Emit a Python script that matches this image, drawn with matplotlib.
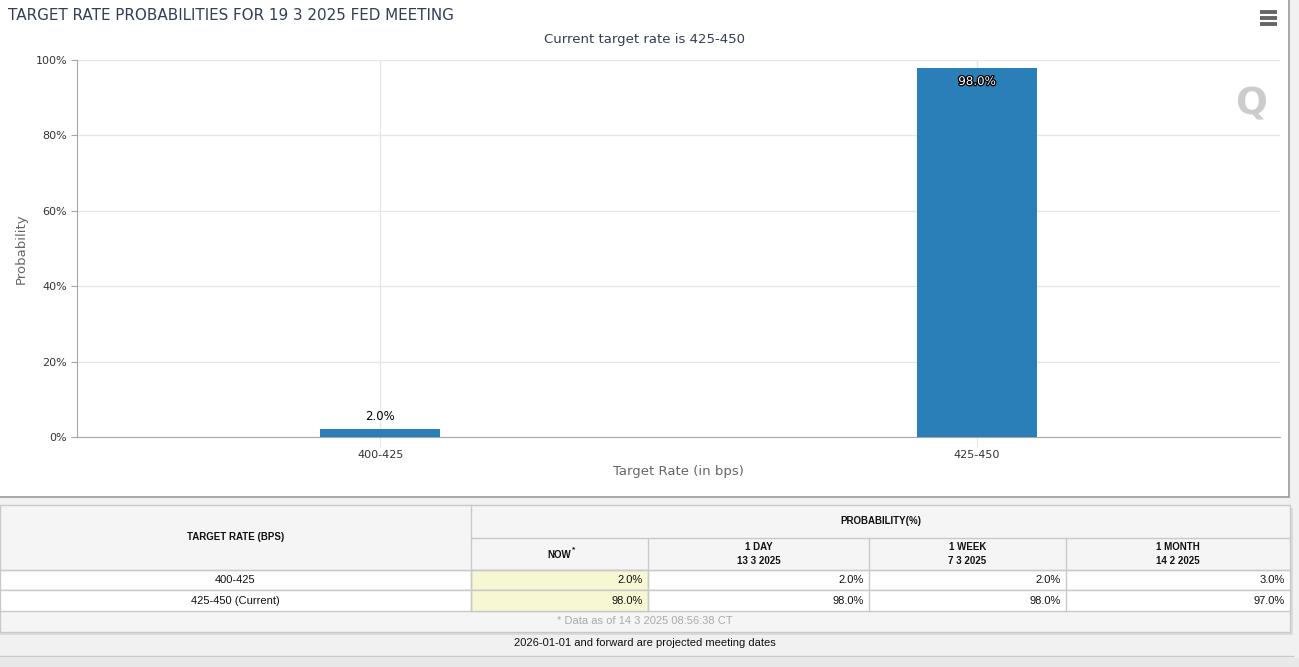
import numpy as np
import matplotlib
matplotlib.use("Agg")
import matplotlib.pyplot as plt
from matplotlib.patches import Rectangle
from matplotlib import patheffects as pe

# ---- data ----
categories = ["400-425", "425-450"]
prob_now = [2.0, 98.0]

row_labels = ["400-425", "425-450 (Current)"]
col_headers = ["NOW", "1 DAY\n13 3 2025", "1 WEEK\n7 3 2025", "1 MONTH\n14 2 2025"]
tbl_now = [2.0, 98.0]
tbl_day = [2.0, 98.0]
tbl_week = [2.0, 98.0]
tbl_month = [3.0, 97.0]

title = "TARGET RATE PROBABILITIES FOR 19 3 2025 FED MEETING"
subtitle = "Current target rate is 425-450"
footnote = "* Data as of 14 3 2025 08:56:38 CT"
bottom_note = "2026-01-01 and forward are projected meeting dates"

W, H = 1299, 667
bar_color = "#2a7fb8"
grid_color = "#e6e6e6"
axis_gray = "#a6a6a6"

fig = plt.figure(figsize=(W / 100, H / 100), dpi=100, facecolor="#f1f1f1")

# background / decoration layer in pixel coordinates
bg = fig.add_axes([0, 0, 1, 1], zorder=0)
bg.set_xlim(0, W)
bg.set_ylim(H, 0)
bg.axis("off")

# chart panel
bg.add_patch(Rectangle((-2, -2), 1291, 499, facecolor="white", edgecolor="#9a9a9a", lw=1.2))
bg.text(8, 15, title, fontsize=10.9, color="#333d58", va="center", ha="left",
        family="DejaVu Sans")
bg.text(645, 39, subtitle, fontsize=9.5, color="#333d55", va="center", ha="center")

# hamburger menu
for yy in (12, 18, 24):
    bg.plot([1260, 1277], [yy, yy], color="#666666", lw=2.8, solid_capstyle="butt")

# watermark logo
bg.text(1251, 104, "Q", fontsize=27, fontweight="bold", color="#cccccc",
        ha="center", va="center", zorder=1)
for i, (yy, ln) in enumerate([(68, 4), (75, 5), (82, 6), (89, 8), (96, 10),
                              (103, 12), (110, 10), (117, 8), (124, 6), (131, 4)]):
    xr = 1254 - i * 3.2
    bg.plot([xr - ln, xr], [yy, yy], color="#a8e4ef", lw=1.2, zorder=0.5)

# ---- table (pixel layout) ----
col_edges = [0, 471, 648, 869, 1066, 1290]
y_top, y_split, y_head, y_r1, y_r2, y_foot = 505, 538, 570, 590, 611, 632
line_c = "#c9c9c9"
tfont = "Liberation Sans"

bg.add_patch(Rectangle((0, y_top + 3), 1293, y_foot - y_top, facecolor="#dcdcdc",
                       edgecolor="none"))
bg.add_patch(Rectangle((0, y_top), 1290, y_foot - y_top, facecolor="#f5f5f5",
                       edgecolor=line_c, lw=1))
row_edges = [y_head, y_r1, y_r2]
for r in range(len(row_labels)):
    bg.add_patch(Rectangle((0, row_edges[r]), 1290, row_edges[r + 1] - row_edges[r],
                           facecolor="white", edgecolor=line_c, lw=1))
    bg.add_patch(Rectangle((col_edges[1], row_edges[r]), col_edges[2] - col_edges[1],
                           row_edges[r + 1] - row_edges[r],
                           facecolor="#f7f7d3", edgecolor=line_c, lw=1))

# header grid lines
bg.plot([col_edges[1], col_edges[1]], [y_top, y_r2], color=line_c, lw=1)
bg.plot([col_edges[1], col_edges[-1]], [y_split, y_split], color=line_c, lw=1)
for xe in col_edges[2:-1]:
    bg.plot([xe, xe], [y_split, y_r2], color=line_c, lw=1)
bg.plot([0, col_edges[-1]], [y_head, y_head], color=line_c, lw=1)

bg.text((col_edges[0] + col_edges[1]) / 2, (y_top + y_head) / 2, "TARGET RATE (BPS)",
        fontsize=7, fontweight="bold", ha="center", va="center", family=tfont, color="#111")
bg.text((col_edges[1] + col_edges[-1]) / 2, (y_top + y_split) / 2, "PROBABILITY(%)",
        fontsize=7, fontweight="bold", ha="center", va="center", family=tfont, color="#111")
for j, hdr in enumerate(col_headers):
    xc = (col_edges[j + 1] + col_edges[j + 2]) / 2
    if j == 0:
        bg.text(xc, (y_split + y_head) / 2 + 1, hdr, fontsize=7, fontweight="bold",
                ha="center", va="center", family=tfont, color="#111")
        bg.text(xc + 14, (y_split + y_head) / 2 - 4, "*", fontsize=6, fontweight="bold",
                ha="center", va="center", family=tfont, color="#111")
    else:
        bg.text(xc, (y_split + y_head) / 2, hdr, fontsize=7, fontweight="bold",
                ha="center", va="center", family=tfont, color="#111", linespacing=1.4)

cols = [tbl_now, tbl_day, tbl_week, tbl_month]
for r, lab in enumerate(row_labels):
    yc = (row_edges[r] + row_edges[r + 1]) / 2
    bg.text((col_edges[0] + col_edges[1]) / 2, yc, lab, fontsize=8, ha="center",
            va="center", family=tfont, color="#111")
    for j, vals in enumerate(cols):
        bg.text(col_edges[j + 2] - 5, yc, f"{vals[r]:.1f}%", fontsize=8, ha="right",
                va="center", family=tfont, color="#111")

bg.text(645, (y_r2 + y_foot) / 2, footnote, fontsize=8, ha="center", va="center",
        family=tfont, color="#aaaaaa")
bg.text(645, 643, bottom_note, fontsize=8, ha="center", va="center",
        family=tfont, color="#111")
bg.plot([0, 1293], [656, 656], color="#c9c9c9", lw=1)
bg.add_patch(Rectangle((0, 658), W, 9, facecolor="#e8e8e8", edgecolor="none"))

# ---- chart ----
ax = fig.add_axes([77 / W, 1 - 437 / H, 1203 / W, 377 / H], zorder=2)
ax.set_facecolor("none")
x = np.arange(len(categories))
bars = ax.bar(x, prob_now, width=0.2, color=bar_color, zorder=3)
ax.set_xlim(-0.508, len(categories) - 0.492)
ax.set_ylim(0, 100)
ax.set_yticks(np.arange(0, 101, 20))
ax.set_yticklabels([f"{v}%" for v in range(0, 101, 20)])
ax.set_xticks(x)
ax.set_xticklabels(categories)
ax.grid(True, axis="both", color=grid_color, lw=1, zorder=0)
ax.tick_params(axis="y", length=4, color=axis_gray, labelsize=8, labelcolor="#333333", pad=3)
ax.tick_params(axis="x", length=7, color=grid_color, labelsize=8, labelcolor="#333333", pad=2)
for s in ("top", "right"):
    ax.spines[s].set_visible(False)
ax.spines["left"].set_color(axis_gray)
ax.spines["bottom"].set_color(axis_gray)
ax.set_ylabel("Probability", fontsize=9.5, color="#666666")
ax.yaxis.set_label_coords(-0.041, 0.5)
ax.set_xlabel("Target Rate (in bps)", fontsize=9.5, color="#666666")
ax.xaxis.set_label_coords(0.5, -0.074)

for xi, v in zip(x, prob_now):
    if v > 90:
        ax.annotate(f"{v:.1f}%", (xi, v), xytext=(0, -10), textcoords="offset points",
                    ha="center", va="center", fontsize=8.5, color="white",
                    path_effects=[pe.withStroke(linewidth=1.8, foreground="black")], zorder=4)
    else:
        ax.annotate(f"{v:.1f}%", (xi, v), xytext=(0, 9), textcoords="offset points",
                    ha="center", va="center", fontsize=8.5, color="black", zorder=4)

fig.savefig("out.png", dpi=100, facecolor=fig.get_facecolor())
